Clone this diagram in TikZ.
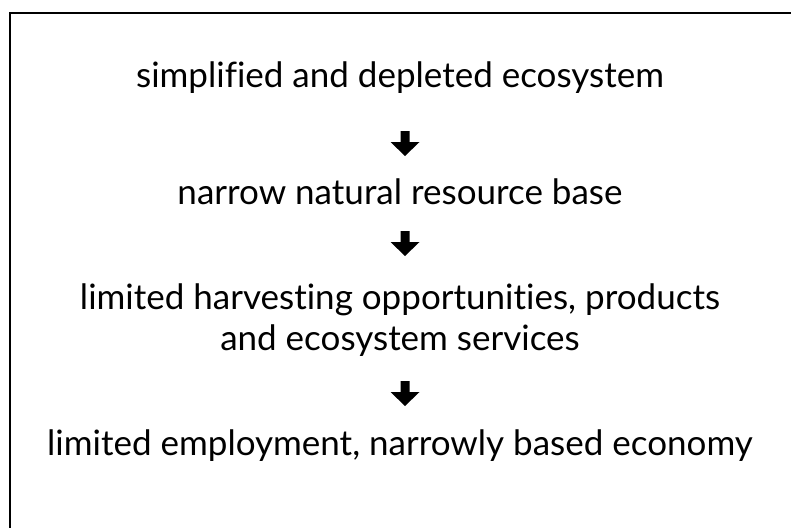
\documentclass[tikz,border=0pt]{standalone}
\usepackage{fontspec}
\setmainfont{Lato}[Ligatures={NoCommon}]
\tikzset{
  label text/.style={inner sep=0pt, align=center, font=\fontsize{35}{41}\selectfont},
  fat arrow/.pic={\fill[black] (-4.5,0) -- (4.5,0) -- (4.5,-11) -- (14.5,-11) -- (0,-25) -- (-14.5,-11) -- (-4.5,-11) -- cycle;}
}
\begin{document}
\begin{tikzpicture}[x=1pt,y=1pt]
\useasboundingbox (0,0) rectangle (791,-527);
\begin{scope}
\clip (0,0) rectangle (791,-527);
\draw[line width=2.5pt] (10,-13) rectangle (810,-560);
\end{scope}
\node[label text] (n1) at (400,-78) {simplified and depleted ecosystem};
\node[label text] (n2) at (400,-192) {narrow natural resource base};
\node[label text] (n3) at (400,-320) {limited harvesting opportunities, products\\and ecosystem services};
\node[label text] (n4) at (400,-446) {limited employment, narrowly based economy};
\coordinate (a1) at (405,-131);
\coordinate (a2) at (405,-231);
\coordinate (a3) at (405,-381);
\pic at (a1) {fat arrow};
\pic at (a2) {fat arrow};
\pic at (a3) {fat arrow};
\end{tikzpicture}
\end{document}
